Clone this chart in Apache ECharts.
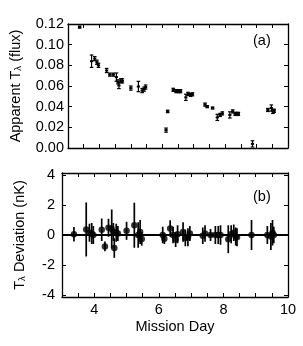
<!DOCTYPE html>
<html><head><meta charset="utf-8">
<script src="https://cdn.jsdelivr.net/npm/echarts@6/dist/echarts.min.js"></script>
<style>html,body{margin:0;padding:0;background:#fff}#c{width:303px;height:346px}</style>
</head><body><div id="c"></div>
<script>
// Mission day of each observation
const days = [3.37,3.75,3.85,3.92,3.97,4.23,4.33,4.44,4.54,4.59,4.62,4.68,4.73,5.00,5.24,5.36,5.42,5.47,
  6.12,6.17,6.35,6.44,6.52,6.58,6.75,6.82,6.90,6.96,7.36,7.43,7.60,7.75,7.84,7.91,8.15,8.24,8.32,8.38,8.42,
  8.87,9.36,9.47,9.52,9.56];
// Panel (a): apparent T_lambda (flux) and its error
const flux = [0.117,0.084,0.0865,0.083,0.080,0.075,0.071,0.071,0.0686,0.064,0.0605,0.065,0.065,0.058,0.0595,0.0556,0.057,0.059,
  0.0173,0.0354,0.0563,0.055,0.055,0.055,0.049,0.0524,0.0514,0.052,0.042,0.040,0.0387,0.0296,0.032,0.0335,0.032,0.0354,0.033,0.033,0.033,
  0.004,0.0368,0.0387,0.0354,0.036];
const fluxErr = [0.001,0.006,0.002,0.002,0.002,0.002,0.0015,0.0015,0.004,0.002,0.003,0.002,0.002,0.002,0.005,0.002,0.002,0.002,
  0.002,0.0012,0.0015,0.0015,0.0015,0.0015,0.003,0.0015,0.0015,0.0015,0.0015,0.001,0.001,0.003,0.0015,0.0015,0.003,0.0015,0.0015,0.0015,0.0015,
  0.003,0.0015,0.003,0.002,0.0015];
// Panel (b): T_lambda deviation (nK) and its error
const dev = [0.05,0.37,0.15,0.1,0.0,0.35,-0.76,0.48,0.4,0.2,-0.87,0.15,0.1,0.28,0.65,0.0,0.2,-0.26,
  0.0,-0.25,0.43,0.0,-0.3,0.05,0.2,-0.2,-0.15,0.1,-0.05,0.1,0.0,0.0,0.0,0.0,-0.28,0.05,0.15,-0.1,-0.15,
  0.0,0.0,-0.1,0.15,0.0];
const devErr = [0.48,1.8,0.6,0.7,0.6,0.75,0.33,0.6,1.3,0.6,0.65,0.6,0.5,0.6,1.5,0.85,0.8,0.45,
  0.55,0.35,0.55,0.55,0.5,0.6,0.65,0.55,0.6,0.5,0.55,0.55,0.4,0.6,0.6,0.65,0.93,0.6,0.55,0.6,0.6,
  1.0,0.6,0.9,0.85,0.55];
const xMinor = [3.5,4,4.5,5,5.5,6,6.5,7,7.5,8,8.5,9,9.5];
const xLabels = [4,6,8,10];
const yTicksA = [0,0.02,0.04,0.06,0.08,0.10,0.12];
const yTicksB = [-4,-2,0,2,4];

const FONT = 'Liberation Sans';
const FS = 14.5;
const line = {show:true, onZero:false, lineStyle:{color:'#000', width:1.3}};
const tick = (vals)=>({show:true, inside:true, length:4, lineStyle:{color:'#000', width:1}, customValues: vals});
const noLabel = {show:false};

function errA(params, api){
  const x=api.value(0), y=api.value(1), e=api.value(2);
  const p=api.coord([x,y]), hi=api.coord([x,y+e]), lo=api.coord([x,y-e]);
  const st={stroke:'#000', lineWidth:1.2};
  return {type:'group', children:[
    {type:'line', shape:{x1:p[0],y1:hi[1],x2:p[0],y2:lo[1]}, style:st},
    {type:'line', shape:{x1:p[0]-1.8,y1:hi[1],x2:p[0]+1.8,y2:hi[1]}, style:st},
    {type:'line', shape:{x1:p[0]-1.8,y1:lo[1],x2:p[0]+1.8,y2:lo[1]}, style:st},
    {type:'rect', shape:{x:p[0]-1.6,y:p[1]-1,width:3.2,height:2}, style:{fill:'#000'}}
  ]};
}
function errB(params, api){
  const x=api.value(0), y=api.value(1), e=api.value(2);
  const hi=api.coord([x,y+e]), lo=api.coord([x,y-e]);
  return {type:'line', shape:{x1:hi[0],y1:hi[1],x2:lo[0],y2:lo[1]}, style:{stroke:'#000', lineWidth:1.7}};
}

const chart = echarts.init(document.getElementById('c'), null, {renderer:'canvas'});
chart.setOption({
  animation:false,
  textStyle:{fontFamily:FONT},
  grid:[
    {left:62, right:15, top:24, height:124},
    {left:62, right:15, top:173, height:124}
  ],
  xAxis:[
    {gridIndex:0, type:'value', min:3, max:10, position:'bottom', axisLine:line, axisTick:tick(xMinor), axisLabel:noLabel, splitLine:{show:false}},
    {gridIndex:0, type:'value', min:3, max:10, position:'top', axisLine:line, axisTick:tick(xMinor), axisLabel:noLabel, splitLine:{show:false}},
    {gridIndex:1, type:'value', min:3, max:10, position:'bottom', axisLine:line, axisTick:tick(xMinor),
      axisLabel:{show:true, customValues:xLabels, margin:5, color:'#000', fontSize:FS, fontFamily:FONT},
      splitLine:{show:false}, name:'Mission Day', nameLocation:'middle', nameGap:22,
      nameTextStyle:{color:'#000', fontSize:FS, fontFamily:FONT}},
    {gridIndex:1, type:'value', min:3, max:10, position:'top', axisLine:line, axisTick:tick(xMinor), axisLabel:noLabel, splitLine:{show:false}}
  ],
  yAxis:[
    {gridIndex:0, type:'value', min:0, max:0.12, position:'left', axisLine:line, axisTick:tick(yTicksA),
      axisLabel:{show:true, customValues:yTicksA, margin:4, color:'#000', fontSize:FS, fontFamily:FONT, formatter:v=>v.toFixed(2)},
      splitLine:{show:false}, name:'Apparent T{s|λ} (flux)', nameLocation:'middle', nameGap:45,
      nameTextStyle:{color:'#000', fontSize:FS, fontFamily:FONT, rich:{s:{fontSize:9.5, fontFamily:FONT, verticalAlign:'bottom', color:'#000'}}}},
    {gridIndex:0, type:'value', min:0, max:0.12, position:'right', axisLine:line, axisTick:tick(yTicksA), axisLabel:noLabel, splitLine:{show:false}},
    {gridIndex:1, type:'value', min:-4.13, max:4.13, position:'left', axisLine:line, axisTick:tick(yTicksB),
      axisLabel:{show:true, customValues:yTicksB, margin:7, color:'#000', fontSize:FS, fontFamily:FONT},
      splitLine:{show:false}, name:'T{s|λ} Deviation (nK)', nameLocation:'middle', nameGap:35,
      nameTextStyle:{color:'#000', fontSize:FS, fontFamily:FONT, rich:{s:{fontSize:9.5, fontFamily:FONT, verticalAlign:'bottom', color:'#000'}}}},
    {gridIndex:1, type:'value', min:-4.13, max:4.13, position:'right', axisLine:line, axisTick:tick(yTicksB), axisLabel:noLabel, splitLine:{show:false}}
  ],
  series:[
    {type:'custom', xAxisIndex:0, yAxisIndex:0, renderItem:errA, encode:{x:0,y:1},
      data: days.map((d,i)=>[d, flux[i], fluxErr[i]])},
    {type:'custom', xAxisIndex:2, yAxisIndex:2, renderItem:errB, encode:{x:0,y:1},
      data: days.map((d,i)=>[d, dev[i], devErr[i]]),
      markLine:{silent:true, symbol:'none', label:{show:false}, lineStyle:{color:'#000', width:2, type:'solid'}, data:[{yAxis:0}]}},
    {type:'scatter', xAxisIndex:2, yAxisIndex:2, symbol:'circle', symbolSize:6.5, itemStyle:{color:'#000'},
      data: days.map((d,i)=>[d, dev[i]])}
  ],
  graphic:[
    {type:'text', left:253, top:33, style:{text:'(a)', font:'14.5px "Liberation Sans"', fill:'#000'}},
    {type:'text', left:253, top:189, style:{text:'(b)', font:'14.5px "Liberation Sans"', fill:'#000'}}
  ]
});
</script></body></html>
